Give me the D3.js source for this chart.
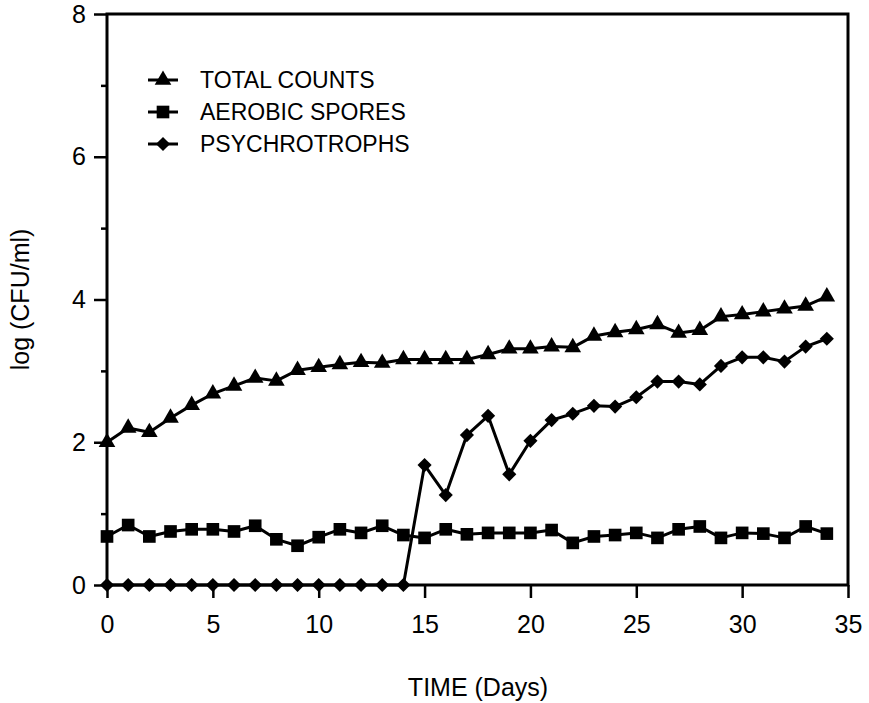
<!DOCTYPE html>
<html>
<head>
<meta charset="utf-8">
<script src="https://cdn.jsdelivr.net/npm/d3@7"></script>
<style>
  body { margin: 0; background: #fff; }
  text { font-family: "Liberation Sans", Arial, Helvetica, sans-serif; fill: #000; }
</style>
</head>
<body>
<script>
// data
const days = d3.range(0, 35);
const totalCounts = [2.00, 2.20, 2.14, 2.34, 2.52, 2.68, 2.79, 2.90, 2.86, 3.01,
    3.05, 3.09, 3.12, 3.11, 3.16, 3.16, 3.16, 3.16, 3.23, 3.31,
    3.31, 3.34, 3.33, 3.49, 3.54, 3.58, 3.65, 3.53, 3.57, 3.76,
    3.79, 3.83, 3.87, 3.91, 4.04];
const aerobicSpores = [0.68, 0.84, 0.68, 0.75, 0.78, 0.78, 0.75, 0.83, 0.64, 0.55,
    0.67, 0.78, 0.73, 0.83, 0.70, 0.66, 0.78, 0.71, 0.73, 0.73,
    0.73, 0.77, 0.59, 0.68, 0.70, 0.73, 0.66, 0.78, 0.82, 0.66,
    0.73, 0.72, 0.66, 0.82, 0.72];
const psychrotrophs = [0, 0, 0, 0, 0, 0, 0, 0, 0, 0,
    0, 0, 0, 0, 0, 1.68, 1.26, 2.10, 2.37, 1.55,
    2.02, 2.31, 2.40, 2.51, 2.50, 2.63, 2.85, 2.85, 2.81, 3.07,
    3.19, 3.19, 3.13, 3.34, 3.45];
const seriesNames = ['TOTAL COUNTS', 'AEROBIC SPORES', 'PSYCHROTROPHS'];
const xTicks = [0, 5, 10, 15, 20, 25, 30, 35];
const yMajorTicks = [0, 2, 4, 6, 8];
const yMinorTicks = [1, 3, 5, 7];

const width = 869, height = 703;
const plotLeft = 107, plotRight = 848, plotTop = 14, plotBottom = 585;

const svg = d3.select('body').append('svg')
    .attr('width', width)
    .attr('height', height);

const x = d3.scaleLinear().domain([0, 35]).range([plotLeft, plotRight]);
const y = d3.scaleLinear().domain([0, 8]).range([plotBottom, plotTop]);

// axes
const xAxis = svg.append('g')
    .attr('transform', `translate(0,${plotBottom})`)
    .call(d3.axisBottom(x).tickValues(xTicks).tickSize(13).tickPadding(17).tickSizeOuter(0));
const yAxis = svg.append('g')
    .attr('transform', `translate(${plotLeft},0)`)
    .call(d3.axisLeft(y).tickValues(yMajorTicks).tickSize(13).tickPadding(8).tickSizeOuter(0));
const yMinor = svg.append('g')
    .attr('transform', `translate(${plotLeft},0)`)
    .call(d3.axisLeft(y).tickValues(yMinorTicks).tickSize(6).tickFormat(''));

[xAxis, yAxis, yMinor].forEach(g => {
    g.select('.domain').remove();
    g.selectAll('line').attr('stroke', '#000').attr('stroke-width', 2.5);
    g.selectAll('text').style('font-size', '25px').attr('fill', '#000');
});
xAxis.selectAll('text').attr('dy', '0.71em');

// frame
svg.append('rect')
    .attr('x', plotLeft).attr('y', plotTop)
    .attr('width', plotRight - plotLeft).attr('height', plotBottom - plotTop)
    .attr('fill', 'none').attr('stroke', '#000').attr('stroke-width', 3);

// axis titles
svg.append('text')
    .attr('x', 478).attr('y', 696)
    .attr('text-anchor', 'middle')
    .style('font-size', '25px')
    .text('TIME (Days)');
svg.append('text')
    .attr('transform', `translate(29,${(plotTop + plotBottom) / 2}) rotate(-90)`)
    .attr('text-anchor', 'middle')
    .style('font-size', '25px')
    .text('log (CFU/ml)');

// series
const symbols = [
    d3.symbol().type(d3.symbolTriangle).size(120),
    d3.symbol().type(d3.symbolSquare).size(160),
    d3.symbol().type(d3.symbolSquare).size(100)
];
const rotations = [0, 0, 45];
const allSeries = [totalCounts, aerobicSpores, psychrotrophs];

const line = d3.line().x((d, i) => x(days[i])).y(d => y(d));

allSeries.forEach((values, k) => {
    svg.append('path')
        .datum(values)
        .attr('d', line)
        .attr('fill', 'none')
        .attr('stroke', '#000')
        .attr('stroke-width', 3)
        .attr('stroke-linejoin', 'round');
    svg.append('g').selectAll('path')
        .data(values)
        .join('path')
        .attr('d', symbols[k])
        .attr('transform', (d, i) => `translate(${x(days[i])},${y(d)}) rotate(${rotations[k]})`)
        .attr('fill', '#000');
});

// legend
const legend = svg.append('g').attr('transform', 'translate(148,80)');
seriesNames.forEach((name, k) => {
    const row = legend.append('g').attr('transform', `translate(0,${k * 32})`);
    row.append('line')
        .attr('x1', 0).attr('x2', 30)
        .attr('stroke', '#000').attr('stroke-width', 3);
    row.append('path')
        .attr('d', symbols[k])
        .attr('transform', `translate(15,0) rotate(${rotations[k]})`)
        .attr('fill', '#000');
    row.append('text')
        .attr('x', 52).attr('dy', '0.35em')
        .style('font-size', '23px')
        .text(name);
});
</script>
</body>
</html>
